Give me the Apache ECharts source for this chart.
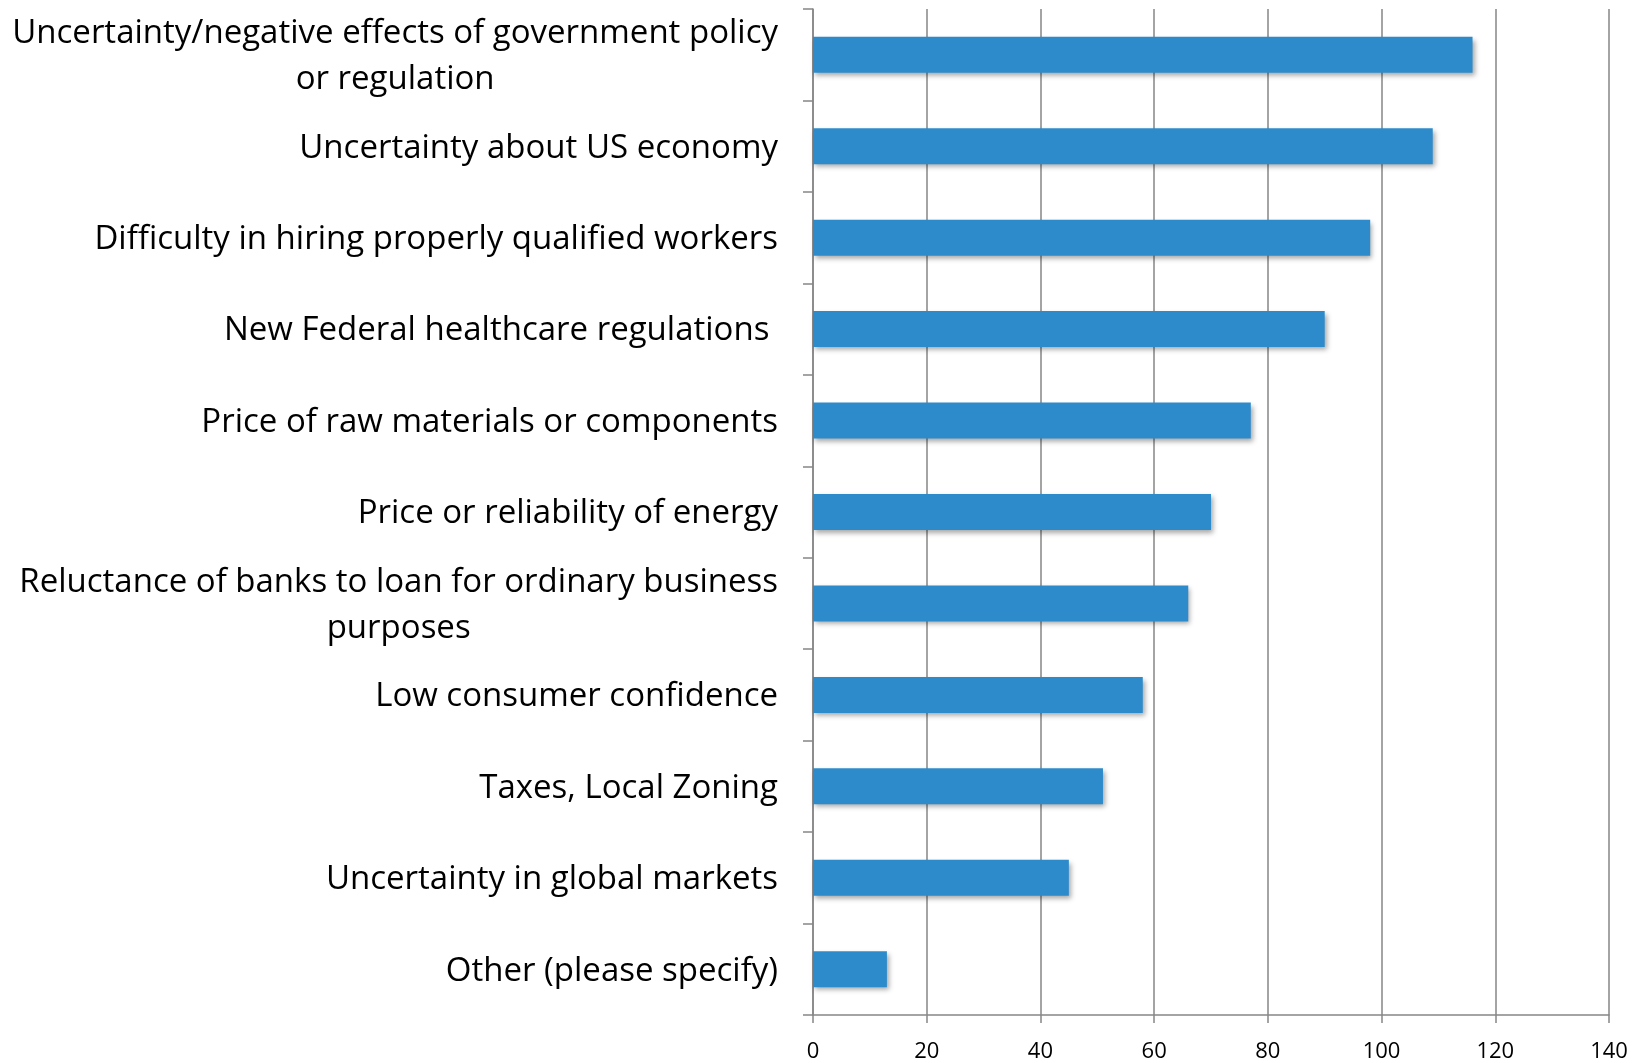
<!DOCTYPE html>
<html>
<head>
<meta charset="utf-8">
<script src="https://cdn.jsdelivr.net/npm/echarts@6/dist/echarts.min.js"></script>
<style>
  html, body { margin: 0; padding: 0; background: #fff; }
  #chart { width: 1649px; height: 1063px; }
</style>
</head>
<body>
<div id="chart"></div>
<script>
// Survey responses: obstacles to business growth
const categories = [
  'Uncertainty/negative effects of government policy\nor regulation',
  'Uncertainty about US economy',
  'Difficulty in hiring properly qualified workers',
  'New Federal healthcare regulations ',
  'Price of raw materials or components',
  'Price or reliability of energy',
  'Reluctance of banks to loan for ordinary business\npurposes',
  'Low consumer confidence',
  'Taxes, Local Zoning',
  'Uncertainty in global markets',
  'Other (please specify)'
];
const responses = [116, 109, 98, 90, 77, 70, 66, 58, 51, 45, 13];
const xTicks = { min: 0, max: 140, interval: 20 };

const gridColor = '#868686';
const labelFont = '"Open Sans", "DejaVu Sans", sans-serif';

const chart = echarts.init(document.getElementById('chart'), null, { renderer: 'canvas' });

chart.setOption({
  backgroundColor: '#ffffff',
  animation: false,
  grid: { left: 813, right: 40, top: 9, bottom: 45, containLabel: false },
  xAxis: {
    type: 'value',
    min: xTicks.min,
    max: xTicks.max,
    interval: xTicks.interval,
    axisLine: { show: true, lineStyle: { color: gridColor, width: 1.5 } },
    axisTick: { show: true, length: 8, lineStyle: { color: gridColor, width: 1.5 } },
    splitLine: { show: true, lineStyle: { color: gridColor, width: 1.5 } },
    axisLabel: { color: '#000', fontFamily: labelFont, fontSize: 22, margin: 26 }
  },
  yAxis: {
    type: 'category',
    inverse: true,
    data: categories,
    axisLine: { show: true, lineStyle: { color: gridColor, width: 1.5 } },
    axisTick: { show: true, length: 10, alignWithLabel: false, lineStyle: { color: gridColor, width: 1.5 } },
    splitLine: { show: false },
    axisLabel: {
      margin: 35,
      interval: 0,
      padding: [4, 0, 0, 0],
      formatter: function (v) {
        return v.split('\n').map(function (l) { return '{c|' + l + '}'; }).join('\n');
      },
      rich: {
        c: { align: 'center', color: '#000', fontFamily: labelFont, fontSize: 33, lineHeight: 46 }
      }
    }
  },
  series: [{
    type: 'bar',
    data: responses,
    barWidth: 36,
    itemStyle: {
      color: '#2E8BCB',
      shadowColor: 'rgba(0,0,0,0.35)',
      shadowBlur: 5,
      shadowOffsetX: 2,
      shadowOffsetY: 3
    }
  }]
});
</script>
</body>
</html>
